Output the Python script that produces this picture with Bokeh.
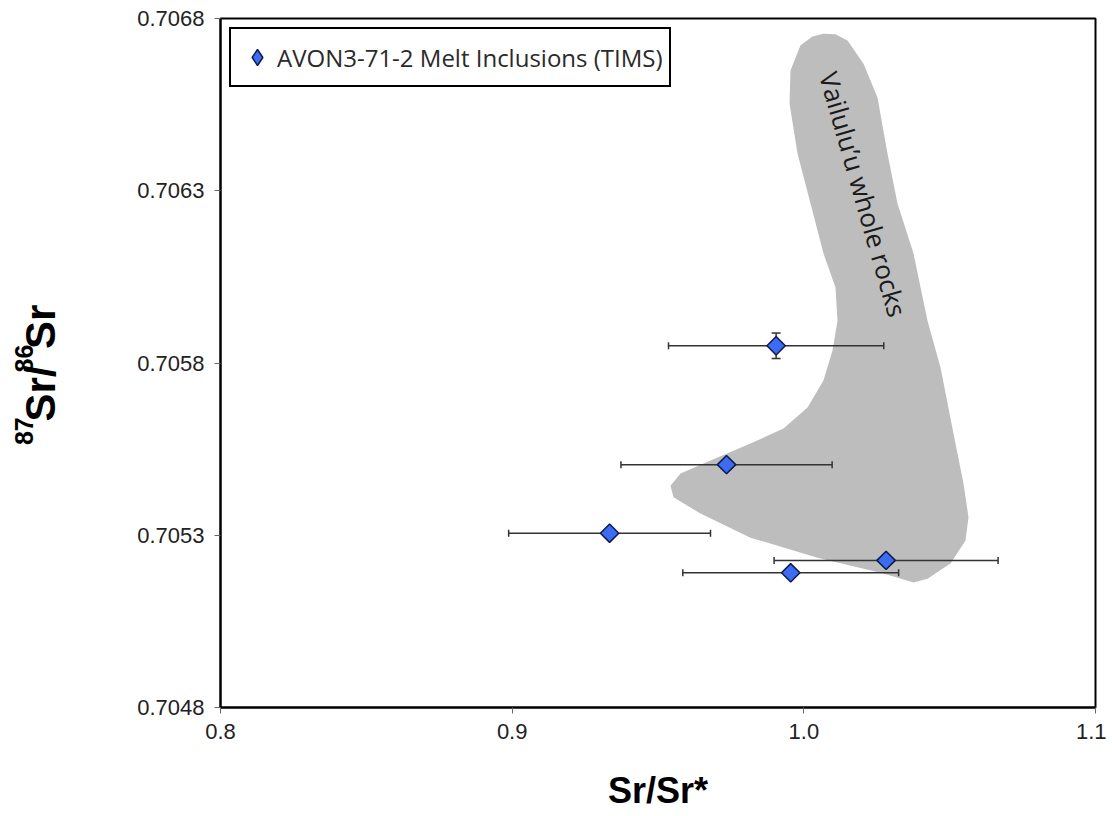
from bokeh.plotting import figure
from bokeh.layouts import row
from bokeh.models import (Range1d, Whisker, TeeHead, ColumnDataSource, Legend, LegendItem,
                          FixedTicker, NumeralTickFormatter)
from bokeh.core.properties import value
from bokeh.embed import file_html
from bokeh.resources import INLINE

# ---- data ----
sr_star = [0.9905, 0.9735, 0.9334, 1.0282, 0.9955]          # Sr/Sr*
sr_ratio = [0.70585, 0.705505, 0.705306, 0.705227, 0.705191]  # 87Sr/86Sr
sr_star_err = [0.0369, 0.0362, 0.0346, 0.0384, 0.0370]
sr_ratio_err = [0.000037, 0.0, 0.0, 0.0, 0.0]

# outline of the Vailulu'u whole-rock field
field_x = [0.99543, 0.99886, 1.00297, 1.00674, 1.01086, 1.01497, 1.02046, 1.02526, 1.02868,
           1.03211, 1.03760, 1.04240, 1.04686, 1.05131, 1.05474, 1.05646, 1.05543, 1.05029,
           1.04240, 1.03760, 1.02731, 1.00469, 0.98171, 0.96457, 0.95531, 0.95429, 0.95771,
           0.97040, 0.98171, 0.99303, 1.00126, 1.00674, 1.00983, 1.01154, 1.01086, 1.00674,
           1.00229, 0.99783, 0.99509]
field_y = [0.706649, 0.706722, 0.706748, 0.706756, 0.706754, 0.706736, 0.706669, 0.706571, 0.706408,
           0.706263, 0.706118, 0.705923, 0.705787, 0.705595, 0.705450, 0.705352, 0.705285, 0.705218,
           0.705174, 0.705163, 0.705189, 0.705235, 0.705293, 0.705363, 0.705410, 0.705444, 0.705479,
           0.705526, 0.705566, 0.705610, 0.705671, 0.705749, 0.705836, 0.705923, 0.706019, 0.706118,
           0.706263, 0.706408, 0.706553]
field_label = "Vailulu\u2019u whole rocks"
field_label_x = 1.0204
field_label_y = 0.70629

series_name = "AVON3-71-2 Melt Inclusions (TIMS)"
x_ticks = [0.8, 0.9, 1.0, 1.1]
x_tick_labels = ["0.8", "0.9", "1.0", "1.1"]
y_ticks = [0.7048, 0.7053, 0.7058, 0.7063, 0.7068]
y_tick_labels = ["0.7048", "0.7053", "0.7058", "0.7063", "0.7068"]
x_title = "Sr/Sr*"
# y title pieces: (text, is_superscript)  ->  87Sr/86Sr
y_title_parts = [("87", True), ("Sr/", False), ("86", True), ("Sr", False)]

H = 814
TITLE_W = 80

# ---- y-title strip (a small figure whose frame is the whole canvas, 1 unit = 1 px) ----
t = figure(width=TITLE_W, height=H, output_backend="svg", toolbar_location=None,
           x_range=Range1d(0, TITLE_W), y_range=Range1d(0, H), min_border=0,
           x_axis_type=None, y_axis_type=None)
t.grid.visible = False
t.outline_line_color = None

main_size, sup_size = 42, 25
char_w = {"S": 0.667, "r": 0.389, "/": 0.278, "8": 0.556, "7": 0.556, "6": 0.556}
widths = [sum(char_w[c] for c in s_) * (sup_size if sup else main_size) for s_, sup in y_title_parts]
widths = [w + (2 if s_ == "Sr/" else 0) for w, (s_, _) in zip(widths, y_title_parts)]
pos = (H - 425) - sum(widths) / 2
for (s_, sup), w in zip(y_title_parts, widths):
    t.text(x=[23 if sup else 40], y=[pos], text=[s_], angle=90, angle_units="deg",
           text_font=value("Liberation Sans"), text_font_style="bold",
           text_font_size=f"{sup_size if sup else main_size}px", text_color="black",
           text_align="left", text_baseline="alphabetic")
    pos += w

# ---- main figure ----
p = figure(width=1106 - TITLE_W, height=H, output_backend="svg", toolbar_location=None,
           x_range=Range1d(0.8, 1.1), y_range=Range1d(0.7048, 0.7068),
           min_border_left=220 - TITLE_W, min_border_top=18, min_border_right=11, min_border_bottom=107)
p.grid.visible = False
p.outline_line_color = "black"
p.outline_line_width = 2
p.outline_line_alpha = 1
p.background_fill_color = "white"

# field
p.patch(field_x, field_y, fill_color="#BDBDBD", line_color=None, level="underlay")
p.text(x=[field_label_x], y=[field_label_y], text=[field_label], angle=-74, angle_units="deg",
       text_font=value("Open Sans"), text_font_size="26px", text_color="#1a1a1a",
       text_align="center", text_baseline="middle")

src = ColumnDataSource(dict(
    x=sr_star, y=sr_ratio,
    xl=[a - e for a, e in zip(sr_star, sr_star_err)],
    xu=[a + e for a, e in zip(sr_star, sr_star_err)],
    yl=[a - e for a, e in zip(sr_ratio, sr_ratio_err)],
    yu=[a + e for a, e in zip(sr_ratio, sr_ratio_err)],
))

bar_color = "#333333"
wx = Whisker(source=src, base="y", lower="xl", upper="xu", dimension="width",
             line_color=bar_color, line_width=1.5,
             lower_head=TeeHead(size=7, line_color=bar_color, line_width=1.5),
             upper_head=TeeHead(size=7, line_color=bar_color, line_width=1.5))
wy = Whisker(source=src, base="x", lower="yl", upper="yu", dimension="height",
             line_color=bar_color, line_width=1.5,
             lower_head=TeeHead(size=9, line_color=bar_color, line_width=1.5),
             upper_head=TeeHead(size=9, line_color=bar_color, line_width=1.5))
wx.level = "underlay"
wy.level = "underlay"
p.add_layout(wx)
p.add_layout(wy)

marker_fill = "#3D6BF2"
marker_line = "#0D1B4D"
# legend swatch renderer (diamond); it lies fully underneath the rotated-square markers
swatch = p.scatter("x", "y", source=src, marker="diamond", size=12,
                   fill_color=marker_fill, line_color=marker_line, line_width=1.5)
pts = p.scatter("x", "y", source=src, marker="square", angle=45, angle_units="deg", size=13,
                fill_color=marker_fill, line_color=marker_line, line_width=1.5)

legend = Legend(items=[LegendItem(label=series_name, renderers=[swatch])],
                location="top_left", margin=9, padding=6, spacing=0,
                glyph_width=40, glyph_height=44, label_standoff=-8,
                label_text_font="Open Sans", label_text_font_size="24px", label_text_color="#2a2a2a",
                border_line_color="black", border_line_width=2, border_line_alpha=1,
                background_fill_alpha=1)
p.add_layout(legend)

# axes
for ax in (p.xaxis[0], p.yaxis[0]):
    ax.axis_line_color = "black"
    ax.axis_line_width = 2
    ax.major_tick_in = 0
    ax.major_tick_out = 6
    ax.major_tick_line_color = "#666666"
    ax.minor_tick_line_color = None
    ax.major_label_text_font = "Liberation Sans"
    ax.major_label_text_font_size = "22px"
    ax.major_label_text_color = "#222222"
    ax.major_label_standoff = 10
    ax.axis_label_text_font = "Liberation Sans"
    ax.axis_label_text_font_style = "bold"
    ax.axis_label_text_font_size = "36px"
    ax.axis_label_text_color = "black"

p.xaxis[0].ticker = FixedTicker(ticks=x_ticks)
p.xaxis[0].formatter = NumeralTickFormatter(format="0.0")
p.xaxis[0].major_label_overrides = dict(zip(x_ticks, x_tick_labels))
p.yaxis[0].ticker = FixedTicker(ticks=y_ticks)
p.yaxis[0].formatter = NumeralTickFormatter(format="0.0000")
p.yaxis[0].major_label_overrides = dict(zip(y_ticks, y_tick_labels))

p.xaxis[0].axis_label = x_title
p.xaxis[0].axis_label_standoff = 28

layout = row(t, p, spacing=0)
open("out.html", "w").write(file_html(layout, INLINE))
